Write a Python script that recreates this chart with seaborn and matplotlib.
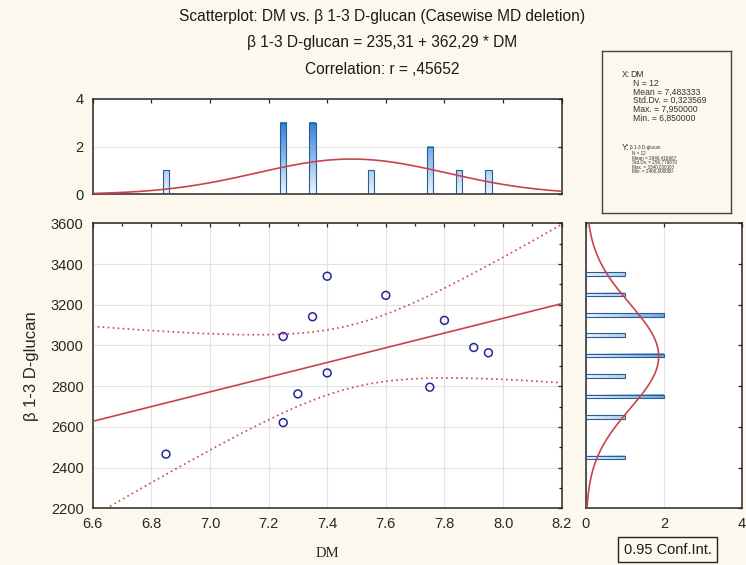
import numpy as np
import pandas as pd
import matplotlib
matplotlib.use("Agg")
import matplotlib.pyplot as plt
import seaborn as sns
from matplotlib.colors import LinearSegmentedColormap
from matplotlib.ticker import MultipleLocator, NullFormatter

# ── Data ─────────────────────────────────────────────────────
dm = [6.85, 7.25, 7.25, 7.30, 7.35, 7.40, 7.40, 7.60, 7.75, 7.80, 7.90, 7.95]
glucan = [2466, 3044, 2621, 2762, 3141, 3340, 2865, 3246, 2795, 3123, 2990, 2964]

dm_bin_centers = [6.85, 7.25, 7.35, 7.55, 7.75, 7.85, 7.95]
dm_bin_counts = [1, 3, 3, 1, 2, 1, 1]
glucan_bin_centers = [2450, 2650, 2750, 2850, 2950, 3050, 3150, 3250, 3350]
glucan_bin_counts = [1, 1, 2, 1, 2, 1, 2, 1, 1]

title_lines = [
    "Scatterplot: DM vs. β 1-3 D-glucan (Casewise MD deletion)",
    "β 1-3 D-glucan = 235,31 + 362,29 * DM",
    "Correlation: r = ,45652",
]
x_stats = ["N = 12", "Mean = 7,483333", "Std.Dv. = 0,323569",
           "Max. = 7,950000", "Min. = 6,850000"]
y_stats = ["N = 12", "Mean = 2946,416667", "Std.Dv. = 256,779870",
           "Max. = 3340,000000", "Min. = 2466,000000"]

df = pd.DataFrame({"DM": dm, "glucan": glucan})

# ── Style ────────────────────────────────────────────────────
BG = "#FCF8EE"
RED = "#C9434D"
NAVY = "#25259C"
EDGE = "#2F5C8E"
SPINE = "#262626"
bar_cmap = LinearSegmentedColormap.from_list("bars", ["#EAF3FD", "#2F84DE"])

sns.set_theme(style="white")
plt.rcParams["font.family"] = ["Liberation Sans", "DejaVu Sans"]
plt.rcParams["text.color"] = "#1a1a1a"
plt.rcParams["xtick.color"] = SPINE
plt.rcParams["ytick.color"] = SPINE

W, H = 746, 565


def box(x0, y0, x1, y1):
    # pixel box -> figure fraction rect
    return [x0 / W, 1 - y1 / H, (x1 - x0) / W, (y1 - y0) / H]


def shade_bars(a, horizontal=False, vmax=3.0):
    for p in list(a.patches):
        x0, y0, w, h = p.get_x(), p.get_y(), p.get_width(), p.get_height()
        if horizontal:
            img = np.linspace(0, w / vmax, 50).reshape(1, -1)
        else:
            img = np.linspace(0, h / vmax, 50).reshape(-1, 1)
        a.imshow(img, cmap=bar_cmap, vmin=0, vmax=1, origin="lower",
                 aspect="auto", extent=(x0, x0 + w, y0, y0 + h),
                 interpolation="bilinear", zorder=2)
        p.set_facecolor("none")
        p.set_zorder(3)


def style_axes(a):
    a.set_facecolor("white")
    for s in a.spines.values():
        s.set_color(SPINE)
        s.set_linewidth(1.1)
    a.tick_params(which="both", direction="in", top=True, right=True,
                  labelsize=10.5, pad=6.5)
    a.tick_params(which="major", length=3, width=0.9)
    a.tick_params(which="minor", length=2.2, width=0.9)


fig = plt.figure(figsize=(7.46, 5.65), dpi=100, facecolor=BG)
ax_top = fig.add_axes(box(92.7, 99, 561.7, 194.3))
ax = fig.add_axes(box(92.7, 223.3, 561.7, 508.3))
ax_r = fig.add_axes(box(586, 223.3, 742, 508.3))
ax_box = fig.add_axes(box(602.3, 50.7, 731, 212.7))

# ── Top histogram (DM) ───────────────────────────────────────
sns.histplot(x=dm_bin_centers, weights=dm_bin_counts, binwidth=0.1,
             binrange=(6.8, 8.0), shrink=0.22, ax=ax_top, color="#8fbff0",
             edgecolor=EDGE, linewidth=0.8, alpha=1)
shade_bars(ax_top)
mu_x, sd_x = df["DM"].mean(), df["DM"].std()
xs = np.linspace(6.6, 8.2, 300)
ax_top.plot(xs, len(dm) * 0.1 * np.exp(-0.5 * ((xs - mu_x) / sd_x) ** 2)
            / (sd_x * np.sqrt(2 * np.pi)), color=RED, lw=1.2, zorder=4)
style_axes(ax_top)
ax_top.set_xlim(6.6, 8.2)
ax_top.set_ylim(0, 4)
ax_top.set_yticks([0, 2, 4])
ax_top.xaxis.set_major_locator(MultipleLocator(0.2))
ax_top.xaxis.set_major_formatter(NullFormatter())
ax_top.yaxis.grid(True, color="#E2E2E2", lw=0.8)
ax_top.set_axisbelow(True)
ax_top.set_xlabel("")
ax_top.set_ylabel("")

# ── Scatter with regression line and 95% band ────────────────
sns.scatterplot(data=df, x="DM", y="glucan", ax=ax, marker="o", s=32,
                facecolors="none", edgecolor=NAVY, linewidth=1.1, zorder=5)
x_arr, y_arr = np.array(dm), np.array(glucan)
b1, b0 = np.polyfit(x_arr, y_arr, 1)
n = len(dm)
resid = y_arr - (b0 + b1 * x_arr)
s_res = np.sqrt((resid ** 2).sum() / (n - 2))
sxx = ((x_arr - x_arr.mean()) ** 2).sum()
yhat = b0 + b1 * xs
half = 2.228 * s_res * np.sqrt(1 / n + (xs - x_arr.mean()) ** 2 / sxx)
ax.plot(xs, yhat, color=RED, lw=1.2, zorder=4)
ax.plot(xs, yhat + half, color=RED, lw=1.2, ls=(0, (1, 2)), zorder=4)
ax.plot(xs, yhat - half, color=RED, lw=1.2, ls=(0, (1, 2)), zorder=4)
style_axes(ax)
ax.set_xlim(6.6, 8.2)
ax.set_ylim(2200, 3600)
ax.xaxis.set_major_locator(MultipleLocator(0.2))
ax.xaxis.set_minor_locator(MultipleLocator(0.1))
ax.yaxis.set_major_locator(MultipleLocator(200))
ax.yaxis.set_minor_locator(MultipleLocator(100))
ax.xaxis.set_major_formatter(matplotlib.ticker.FormatStrFormatter("%.1f"))
ax.grid(True, which="major", color="#E2E2E2", lw=0.8)
ax.set_axisbelow(True)
ax.set_xlabel("DM", fontfamily="Liberation Serif", fontsize=10.5)
ax.xaxis.set_label_coords(0.5, -0.136)
ax.set_ylabel("β 1-3 D-glucan", fontsize=12)
ax.yaxis.set_label_coords(-0.115, 0.5)

# ── Right histogram (glucan) ─────────────────────────────────
sns.histplot(y=glucan_bin_centers, weights=glucan_bin_counts, binwidth=100,
             binrange=(2400, 3400), shrink=0.18, ax=ax_r, color="#8fbff0",
             edgecolor=EDGE, linewidth=0.8, alpha=1)
shade_bars(ax_r, horizontal=True)
mu_y, sd_y = df["glucan"].mean(), df["glucan"].std()
ys = np.linspace(2200, 3600, 300)
ax_r.plot(len(glucan) * 100 * np.exp(-0.5 * ((ys - mu_y) / sd_y) ** 2)
          / (sd_y * np.sqrt(2 * np.pi)), ys, color=RED, lw=1.2, zorder=4)
style_axes(ax_r)
ax_r.set_xlim(0, 4)
ax_r.set_ylim(2200, 3600)
ax_r.set_xticks([0, 2, 4])
ax_r.yaxis.set_major_locator(MultipleLocator(200))
ax_r.yaxis.set_major_formatter(NullFormatter())
ax_r.xaxis.grid(True, color="#E2E2E2", lw=0.8)
ax_r.set_axisbelow(True)
ax_r.set_xlabel("")
ax_r.set_ylabel("")

# ── Stats box ────────────────────────────────────────────────
ax_box.set_facecolor(BG)
ax_box.set_xticks([])
ax_box.set_yticks([])
for s in ax_box.spines.values():
    s.set_color("#444444")
    s.set_linewidth(1.0)

fig.text(621.7 / W, 1 - 74.3 / H, "X:", fontsize=6.2, va="center", color="#333")
fig.text(630.7 / W, 1 - 74.3 / H, "DM", fontsize=6.2, va="center", color="#333")
for i, line in enumerate(x_stats):
    fig.text(633.3 / W, 1 - (83.3 + 8.75 * i) / H, line, fontsize=6.2,
             va="center", color="#333")
fig.text(621.7 / W, 1 - 147.3 / H, "Y:", fontsize=6.2, va="center", color="#333")
fig.text(630 / W, 1 - 147.3 / H, "β 1-3 D-glucan", fontsize=3.3, va="center",
         color="#333")
for i, line in enumerate(y_stats):
    fig.text(632.3 / W, 1 - (153.3 + 4.45 * i) / H, line, fontsize=3.3,
             va="center", color="#333")

# ── Titles and footer box ────────────────────────────────────
for i, line in enumerate(title_lines):
    fig.text(382 / W, 1 - (17 + 26 * i) / H, line, ha="center", va="center",
             fontsize=11.2)

fig.text(667.5 / W, 1 - 549.5 / H, "0.95 Conf.Int.", ha="center", va="center",
         fontsize=10.5,
         bbox=dict(boxstyle="square,pad=0.38", fc=BG, ec="#222222", lw=1.0))

fig.savefig("out.png", dpi=100, facecolor=BG)
